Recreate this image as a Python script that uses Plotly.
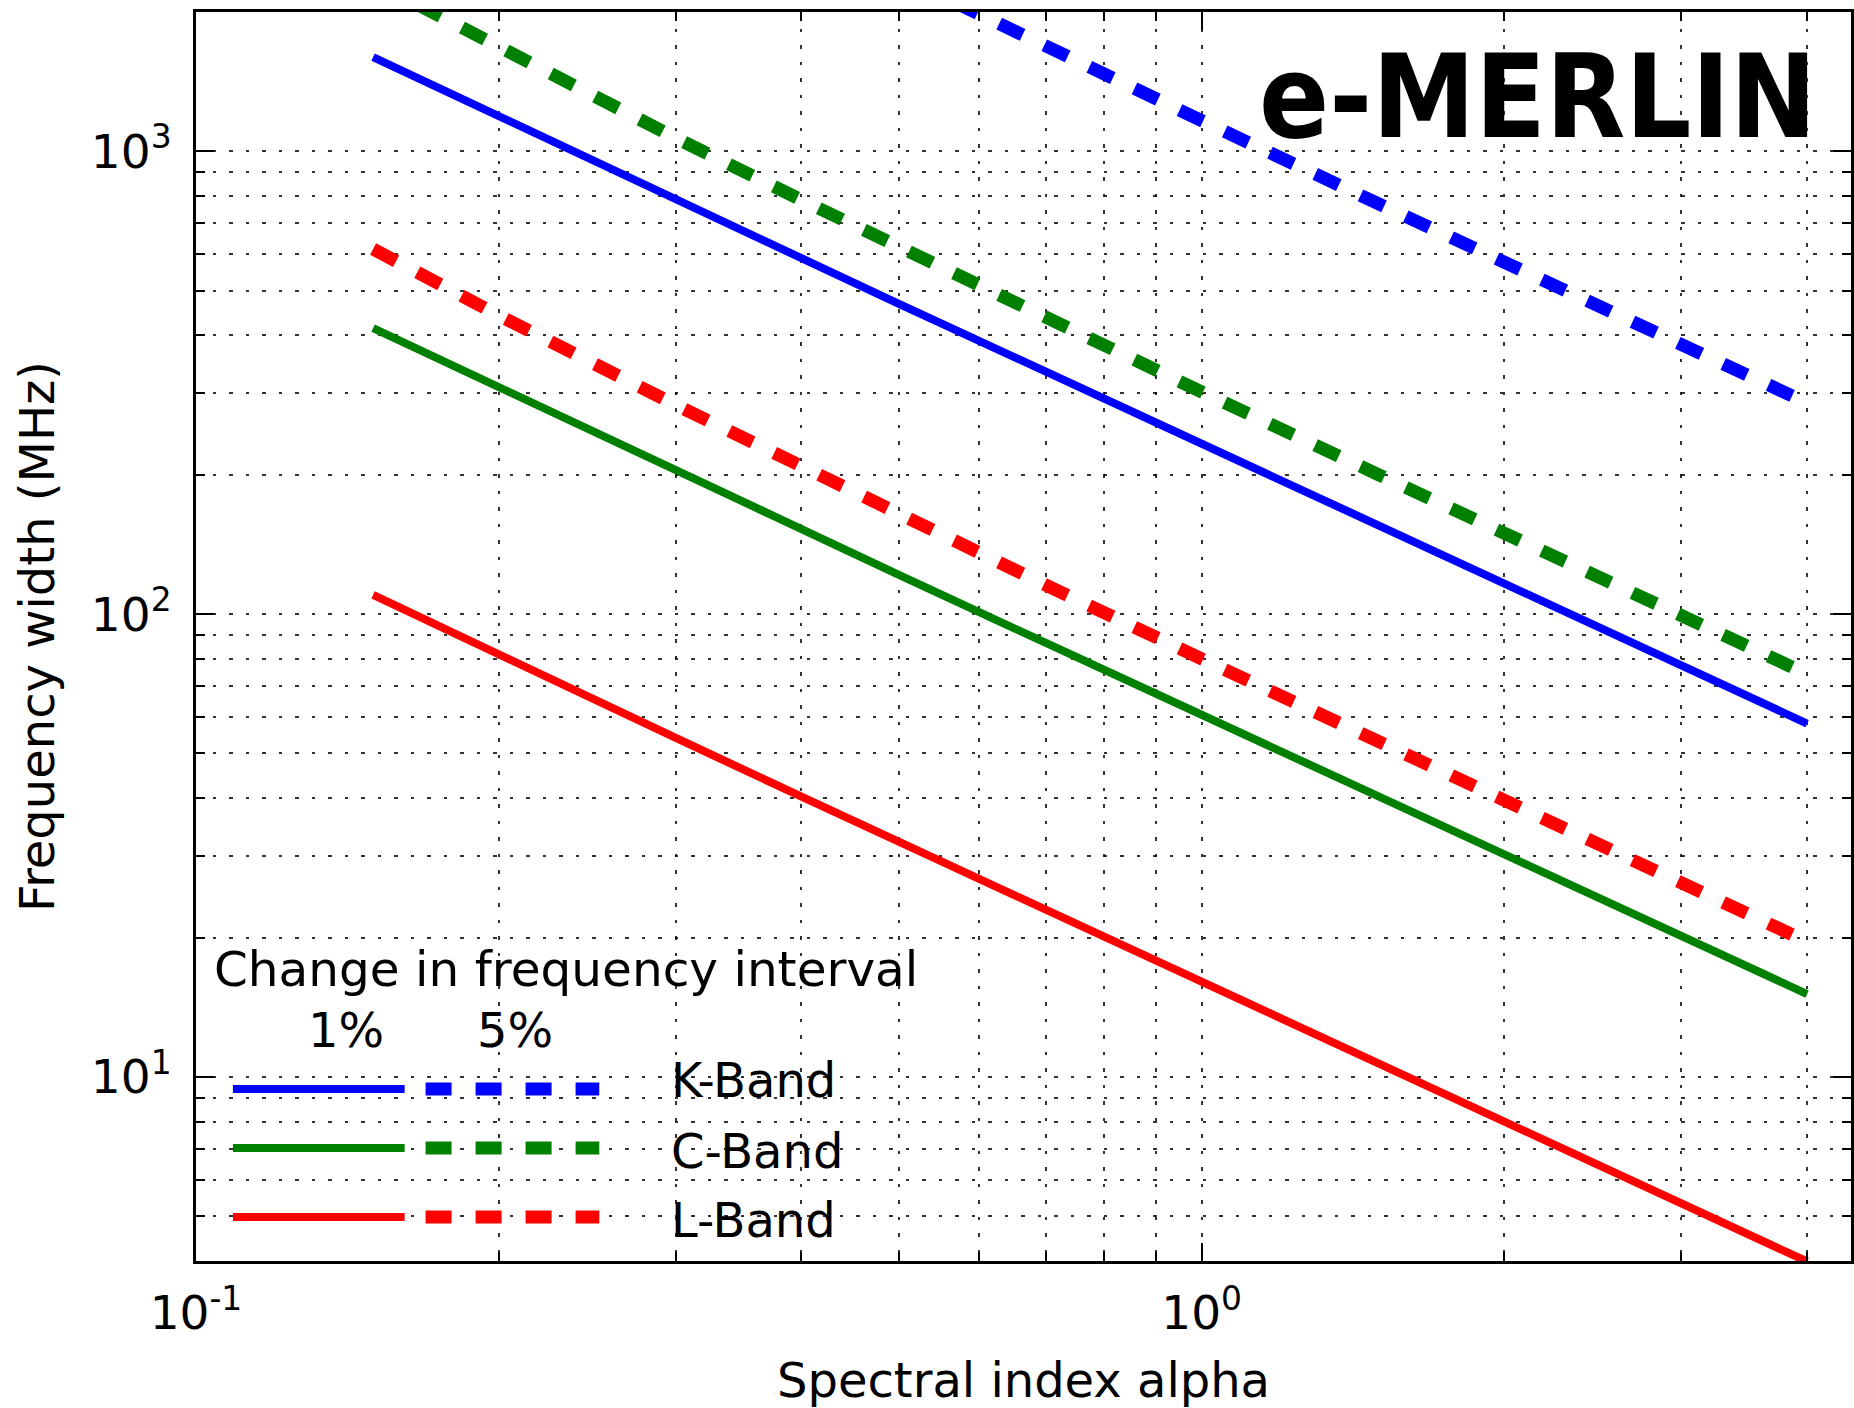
import plotly.graph_objects as go

# ---------------- data ----------------
alpha = [0.15, 0.2, 0.3, 0.4, 0.5, 0.7, 1.0, 1.5, 2.0, 3.0, 4.0]

k_band_1pct = [1598, 1189, 786, 587, 468, 334, 233, 155, 116, 77.4, 58.0]
k_band_5pct = [8956, 6437, 4115, 3023, 2388, 1682, 1165, 770, 575, 382, 286]
c_band_1pct = [415, 309, 204, 152, 121.6, 86.6, 60.5, 40.3, 30.2, 20.1, 15.1]
c_band_5pct = [2326, 1672, 1068, 785, 620, 437, 302, 200, 149, 99.2, 74.2]
l_band_1pct = [110, 81.6, 54.0, 40.3, 32.2, 22.9, 16.0, 10.6, 7.98, 5.32, 3.99]
l_band_5pct = [615, 442, 283, 208, 164, 115.5, 80.0, 52.9, 39.5, 26.2, 19.6]

band_names = ["K-Band", "C-Band", "L-Band"]
band_colors = ["#0000ff", "#008000", "#ff0000"]
pct_labels = ["1%", "5%"]

x_major = [0.1, 1]
x_major_text = ["10<sup>-1</sup>", "10<sup>0</sup>"]
x_minor = [0.2, 0.3, 0.4, 0.5, 0.6, 0.7, 0.8, 0.9, 2, 3, 4]
y_major = [10, 100, 1000]
y_major_text = ["10<sup>1</sup>", "10<sup>2</sup>", "10<sup>3</sup>"]
y_minor = [4, 5, 6, 7, 8, 9, 20, 30, 40, 50, 60, 70, 80, 90,
           200, 300, 400, 500, 600, 700, 800, 900, 2000]

# ---------------- geometry / style ----------------
W, H = 1854, 1408
PL, PR, PT, PB = 196, 1854, 12, 1261
FONT = "DejaVu Sans"
SOLID_W, DASH_W = 8, 13
DASH = "26px,24px"
GRID_DASH = "3.5px,13px"
GRID_COL = "rgba(0,0,0,0.8)"


def px(xp):
    return (xp - PL) / (PR - PL)


def py(yp):
    return (PB - yp) / (PB - PT)


fig = go.Figure()
pairs = [(k_band_1pct, k_band_5pct), (c_band_1pct, c_band_5pct), (l_band_1pct, l_band_5pct)]
for (s1, s5), name, col in zip(pairs, band_names, band_colors):
    fig.add_trace(go.Scatter(x=alpha, y=s1, mode="lines", name=name + " 1%",
                             line=dict(color=col, width=SOLID_W), showlegend=False))
    fig.add_trace(go.Scatter(x=alpha, y=s5, mode="lines", name=name + " 5%",
                             line=dict(color=col, width=DASH_W, dash=DASH), showlegend=False))

axis_common = dict(
    type="log", showline=True, linewidth=3, linecolor="black", mirror="ticks",
    ticks="inside", ticklen=18, tickwidth=2, tickcolor="black",
    showgrid=True, gridcolor=GRID_COL, gridwidth=1.6, griddash=GRID_DASH,
    zeroline=False, tickfont=dict(family=FONT, size=47, color="black"),
    tickmode="array",
)

fig.update_xaxes(
    **axis_common,
    range=[-1, 0.6457],
    tickvals=x_major, ticktext=x_major_text,
    ticklabelstandoff=9,
    minor=dict(tickmode="array", tickvals=x_minor, ticks="inside", ticklen=9,
               tickwidth=2, tickcolor="black", showgrid=True, gridcolor=GRID_COL,
               gridwidth=1.6, griddash=GRID_DASH),
    title=dict(text="Spectral index alpha", font=dict(family=FONT, size=48, color="black"),
               standoff=26),
)
fig.update_yaxes(
    **axis_common,
    range=[0.60206, 3.30103],
    tickvals=y_major, ticktext=y_major_text,
    ticklabelstandoff=12,
    minor=dict(tickmode="array", tickvals=y_minor, ticks="inside", ticklen=9,
               tickwidth=2, tickcolor="black", showgrid=True, gridcolor=GRID_COL,
               gridwidth=1.6, griddash=GRID_DASH),
    title=dict(text="Frequency width (MHz)", font=dict(family=FONT, size=48, color="black"),
               standoff=22),
)

# ---------------- custom legend ----------------
shapes = []
annotations = []
row_line_y = [1089, 1148, 1217]
row_text_y = [1080, 1151, 1220]
for col, ly in zip(band_colors, row_line_y):
    shapes.append(dict(type="line", xref="paper", yref="paper", x0=px(233), x1=px(405),
                       y0=py(ly), y1=py(ly), line=dict(color=col, width=SOLID_W)))
    shapes.append(dict(type="line", xref="paper", yref="paper", x0=px(426), x1=px(600),
                       y0=py(ly), y1=py(ly), line=dict(color=col, width=DASH_W, dash=DASH)))
for name, ty in zip(band_names, row_text_y):
    annotations.append(dict(text=name, xref="paper", yref="paper", x=px(670), y=py(ty),
                            xanchor="left", yanchor="middle", showarrow=False,
                            font=dict(family=FONT, size=48, color="black")))
annotations.append(dict(text="Change in frequency interval", xref="paper", yref="paper",
                        x=px(212), y=py(969), xanchor="left", yanchor="middle", showarrow=False,
                        font=dict(family=FONT, size=48.5, color="black")))
for lab, cx in zip(pct_labels, [346, 516]):
    annotations.append(dict(text=lab, xref="paper", yref="paper", x=px(cx), y=py(1030),
                            xanchor="center", yanchor="middle", showarrow=False,
                            font=dict(family=FONT, size=48, color="black")))
annotations.append(dict(text="<b>e-MERLIN</b>", xref="paper", yref="paper", x=px(1821), y=py(97),
                        xanchor="right", yanchor="middle", showarrow=False,
                        font=dict(family="DejaVu Sans Condensed, Liberation Sans Narrow, DejaVu Sans",
                                  size=115, color="black")))

fig.update_layout(
    width=W, height=H, autosize=False,
    margin=dict(l=PL, r=W - PR, t=PT, b=H - PB, pad=0),
    paper_bgcolor="white", plot_bgcolor="white",
    showlegend=False, shapes=shapes, annotations=annotations,
)

fig.write_html("out.html")
